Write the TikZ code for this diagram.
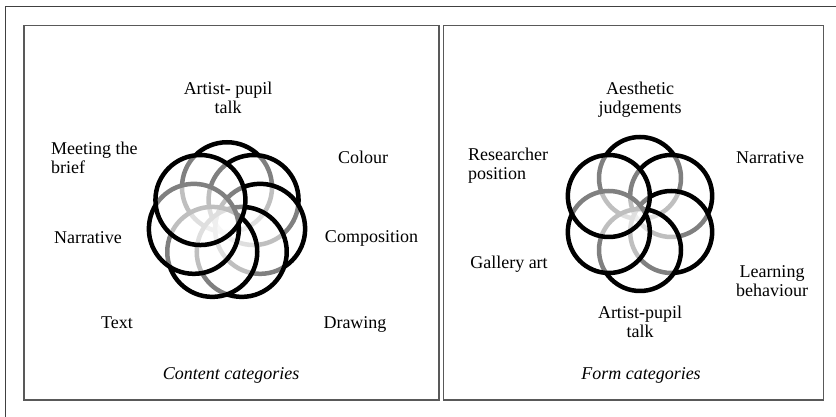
\documentclass[tikz,border=0pt]{standalone}
\usepackage{fontspec}
\setmainfont{Liberation Serif}
\usepackage{tikz}

\begin{document}
\begin{tikzpicture}[x=1pt, y=1pt,
    petal/.style={line width=4.5pt, draw=black, fill=white, fill opacity=0.5},
    cat/.style={align=center, font=\fontsize{18}{19}\selectfont, inner sep=0pt},
    frame/.style={draw=black!65, line width=1.4pt}]
    \useasboundingbox (0,0) rectangle (836,417);

    % Outer frame
    \draw[frame, draw=black!75] (5.7,0) -- (5.7,410.3) -- (836,410.3);

    % Panels
    \draw[frame] (24,17) rectangle (439,391.3);
    \draw[frame] (443.3,17) rectangle (823.3,391.3);

    % Content rosette
    \coordinate (lc) at (227,195.75);
    \filldraw[petal, shift={(lc)}] (90:34) circle (45);
    \filldraw[petal, shift={(lc)}] (38.6:34) circle (45);
    \filldraw[petal, shift={(lc)}] (347.1:34) circle (45);
    \filldraw[petal, shift={(lc)}] (295.7:34) circle (45);
    \filldraw[petal, shift={(lc)}] (244.3:34) circle (45);
    \filldraw[petal, shift={(lc)}] (192.9:34) circle (45);
    \filldraw[petal, shift={(lc)}] (141.4:34) circle (45);

    % Content labels
    \node[cat] (talkA) at (228,319) {Artist- pupil\\talk};
    \node[cat] (colour) at (363,260) {Colour};
    \node[cat] (compo) at (371.5,178.5) {Composition};
    \node[cat] (draw) at (355,93) {Drawing};
    \node[cat] (text) at (117,94) {Text};
    \node[cat] (narrA) at (88,179) {Narrative};
    \node[cat, align=left, anchor=west] (brief) at (51,259) {Meeting the\\brief};
    \node[cat, font=\fontsize{18}{19}\selectfont\itshape] (content) at (231,42) {Content categories};

    % Form rosette
    \coordinate (rc) at (640,203);
    \filldraw[petal, shift={(rc)}] (90:36) circle (41);
    \filldraw[petal, shift={(rc)}] (30:36) circle (41);
    \filldraw[petal, shift={(rc)}] (330:36) circle (41);
    \filldraw[petal, shift={(rc)}] (270:36) circle (41);
    \filldraw[petal, shift={(rc)}] (210:36) circle (41);
    \filldraw[petal, shift={(rc)}] (150:36) circle (41);

    % Form labels
    \node[cat] (aesth) at (640,317) {Aesthetic\\judgements};
    \node[cat] (narrB) at (770,259) {Narrative};
    \node[cat] (learn) at (772,136) {Learning\\behaviour};
    \node[cat] (talkB) at (640,95) {Artist-pupil\\talk};
    \node[cat] (gallery) at (509,153) {Gallery art};
    \node[cat, align=left, anchor=west] (resear) at (468,251) {Researcher\\position};
    \node[cat, font=\fontsize{18}{19}\selectfont\itshape] (form) at (641,42) {Form categories};

\end{tikzpicture}
\end{document}
